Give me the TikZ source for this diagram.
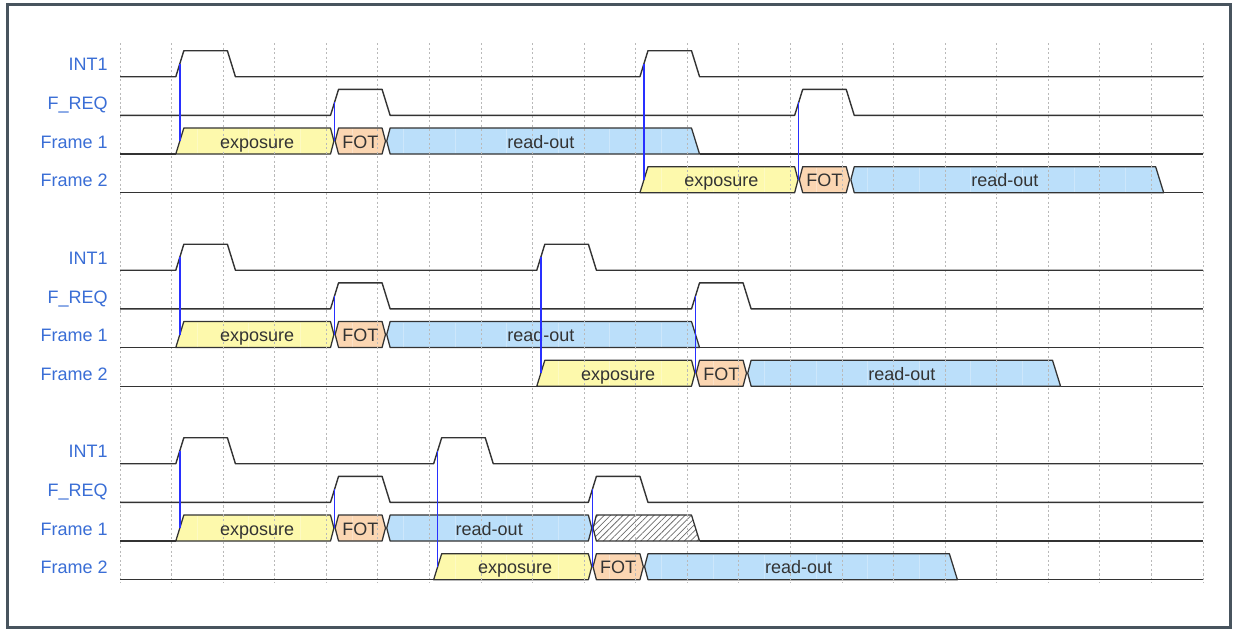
\documentclass[tikz,border=0pt]{standalone}
\usepackage{fontspec}
\setmainfont{Liberation Sans}
\usetikzlibrary{patterns.meta}
\definecolor{framec}{RGB}{72,84,94}
\definecolor{expc}{RGB}{253,249,172}
\definecolor{fotc}{RGB}{251,214,178}
\definecolor{roc}{RGB}{187,223,250}
\definecolor{lblc}{RGB}{58,110,214}
\definecolor{sigc}{RGB}{51,51,51}
\definecolor{txtc}{RGB}{51,51,51}
\definecolor{gridc}{RGB}{185,185,185}
\definecolor{hatchc}{RGB}{110,110,110}
\definecolor{connc}{RGB}{40,48,255}
\tikzset{
 sig/.style={draw=sigc, line width=1.05pt, line join=round},
 box/.style={draw=sigc, line width=0.95pt, line join=round},
 expbox/.style={box, fill=expc},
 fotbox/.style={box, fill=fotc},
 robox/.style={box, fill=roc},
 hatchfill/.style={pattern={Lines[angle=45,distance=3.3pt,line width=0.55pt]}, pattern color=hatchc},
 gridl/.style={draw=gridc, line width=0.7pt, dash pattern=on 1.6pt off 1.8pt},
 minorl/.style={draw=white, opacity=0.28, line width=0.8pt},
 conn/.style={draw=connc, line width=1.1pt},
 lbl/.style={text=lblc, anchor=base east, font=\fontsize{13.5}{16}\selectfont, inner sep=0pt},
 btxt/.style={text=txtc, anchor=base, font=\fontsize{13.5}{16}\selectfont, inner sep=0pt},
}
\def\tsl{0.078}
\def\tdl{0.012}
\def\thi{26}
\def\thm{13}
% pulse row
\newcommand\pulses[2]{\draw[sig] (-0.16,#1) \foreach \t in {#2}{ -- ({\t-\tsl},#1) -- ({\t+\tsl},{#1-\thi}) -- ({\t+1-\tsl},{#1-\thi}) -- ({\t+1+\tsl},#1) } -- (20.84,#1);}
% box with rising left edge and bus right edge
\newcommand\bRB[4]{\path[#4] ({#1-\tsl},#3) -- ({#1+\tsl},{#3-\thi}) -- ({#2-\tsl},{#3-\thi}) -- ({#2-\tdl},{#3-\thm}) -- ({#2-\tsl},#3) -- cycle;}
% box with bus left edge and bus right edge
\newcommand\bBB[4]{\path[#4] ({#1+\tdl},{#3-\thm}) -- ({#1+\tsl},{#3-\thi}) -- ({#2-\tsl},{#3-\thi}) -- ({#2-\tdl},{#3-\thm}) -- ({#2-\tsl},#3) -- ({#1+\tsl},#3) -- cycle;}
% box with bus left edge and falling right edge
\newcommand\bBF[4]{\path[#4] ({#1+\tdl},{#3-\thm}) -- ({#1+\tsl},{#3-\thi}) -- ({#2-\tsl},{#3-\thi}) -- ({#2+\tsl},#3) -- ({#1+\tsl},#3) -- cycle;}
\newcommand\btext[4]{\node[btxt] (#1) at (#2,{#3-5.8}) {#4};}
\newcommand\lab[3]{\node[lbl] (#1) at (-0.393,{#2-5.8}) {#3};}
\newcommand\conn[4]{\coordinate (#1a) at (#2,{#3-\thm}); \coordinate (#1b) at (#2,{#4-\thm}); \draw[conn] (#1a) -- (#1b);}
\begin{document}
\begin{tikzpicture}[x=0.75pt, y=-0.75pt]
\useasboundingbox (0,0) rectangle (1237,628);
\fill[white] (0,0) rectangle (1237,628);
\draw[framec, line width=2.25pt] (7.2,4.7) rectangle (1230.6,627.3);
\begin{scope}[xshift=96.1875pt, x=38.6775pt]
% ---------- boxes ----------
% panel 1
\bRB{1}{4}{154.03}{expbox}
\bBB{4}{5}{154.03}{fotbox}
\bBF{5}{11}{154.03}{robox}
\bRB{10}{13}{192.7}{expbox}
\bBB{13}{14}{192.7}{fotbox}
\bBF{14}{20}{192.7}{robox}
% panel 2
\bRB{1}{4}{347.53}{expbox}
\bBB{4}{5}{347.53}{fotbox}
\bBF{5}{11}{347.53}{robox}
\bRB{8}{11}{386.2}{expbox}
\bBB{11}{12}{386.2}{fotbox}
\bBF{12}{18}{386.2}{robox}
% panel 3
\bRB{1}{4}{541.03}{expbox}
\bBB{4}{5}{541.03}{fotbox}
\bBB{5}{9}{541.03}{robox}
\bBF{9}{11}{541.03}{fill=white}
\bBF{9}{11}{541.03}{hatchfill}
\bBF{9}{11}{541.03}{box}
\bRB{6}{9}{579.7}{expbox}
\bBB{9}{10}{579.7}{fotbox}
\bBF{10}{16}{579.7}{robox}
% ---------- grid ----------
\foreach \yy in {154.03,192.7,347.53,386.2,541.03,579.7}{
  \foreach \k in {0,...,20}{\draw[minorl] ({\k+0.34},{\yy-25}) -- ({\k+0.34},{\yy-1});}
}
\foreach \k in {0,...,21}{\draw[gridl] ({\k-0.16},43) -- ({\k-0.16},583);}
% ---------- signal lines ----------
% panel 1
\pulses{76.7}{1,10}
\pulses{115.37}{4,13}
\draw[sig] (-0.16,154.03) -- ({1-\tsl},154.03);
\draw[sig] ({11+\tsl},154.03) -- (20.84,154.03);
\draw[sig] (-0.16,192.7) -- ({10-\tsl},192.7);
\draw[sig] ({20+\tsl},192.7) -- (20.84,192.7);
% panel 2
\pulses{270.2}{1,8}
\pulses{308.87}{4,11}
\draw[sig] (-0.16,347.53) -- ({1-\tsl},347.53);
\draw[sig] ({11+\tsl},347.53) -- (20.84,347.53);
\draw[sig] (-0.16,386.2) -- ({8-\tsl},386.2);
\draw[sig] ({18+\tsl},386.2) -- (20.84,386.2);
% panel 3
\pulses{463.7}{1,6}
\pulses{502.37}{4,9}
\draw[sig] (-0.16,541.03) -- ({1-\tsl},541.03);
\draw[sig] ({11+\tsl},541.03) -- (20.84,541.03);
\draw[sig] (-0.16,579.7) -- ({6-\tsl},579.7);
\draw[sig] ({16+\tsl},579.7) -- (20.84,579.7);
% ---------- labels ----------
\lab{l1a}{76.7}{INT1}
\lab{l1b}{115.37}{F\_REQ}
\lab{l1c}{154.03}{Frame 1}
\lab{l1d}{192.7}{Frame 2}
\lab{l2a}{270.2}{INT1}
\lab{l2b}{308.87}{F\_REQ}
\lab{l2c}{347.53}{Frame 1}
\lab{l2d}{386.2}{Frame 2}
\lab{l3a}{463.7}{INT1}
\lab{l3b}{502.37}{F\_REQ}
\lab{l3c}{541.03}{Frame 1}
\lab{l3d}{579.7}{Frame 2}
% ---------- box texts ----------
\btext{t11}{2.5}{154.03}{exposure}
\btext{t12}{4.5}{154.03}{FOT}
\btext{t13}{8}{154.03}{read-out}
\btext{t14}{11.5}{192.7}{exposure}
\btext{t15}{13.5}{192.7}{FOT}
\btext{t16}{17}{192.7}{read-out}
\btext{t21}{2.5}{347.53}{exposure}
\btext{t22}{4.5}{347.53}{FOT}
\btext{t23}{8}{347.53}{read-out}
\btext{t24}{9.5}{386.2}{exposure}
\btext{t25}{11.5}{386.2}{FOT}
\btext{t26}{15}{386.2}{read-out}
\btext{t31}{2.5}{541.03}{exposure}
\btext{t32}{4.5}{541.03}{FOT}
\btext{t33}{7}{541.03}{read-out}
\btext{t34}{7.5}{579.7}{exposure}
\btext{t35}{9.5}{579.7}{FOT}
\btext{t36}{13}{579.7}{read-out}
% ---------- connectors ----------
\conn{c11}{1}{76.7}{154.03}
\conn{c12}{4}{115.37}{154.03}
\conn{c13}{10}{76.7}{192.7}
\conn{c14}{13}{115.37}{192.7}
\conn{c21}{1}{270.2}{347.53}
\conn{c22}{4}{308.87}{347.53}
\conn{c23}{8}{270.2}{386.2}
\conn{c24}{11}{308.87}{386.2}
\conn{c31}{1}{463.7}{541.03}
\conn{c32}{4}{502.37}{541.03}
\conn{c33}{6}{463.7}{579.7}
\conn{c34}{9}{502.37}{579.7}
\end{scope}
\end{tikzpicture}
\end{document}
